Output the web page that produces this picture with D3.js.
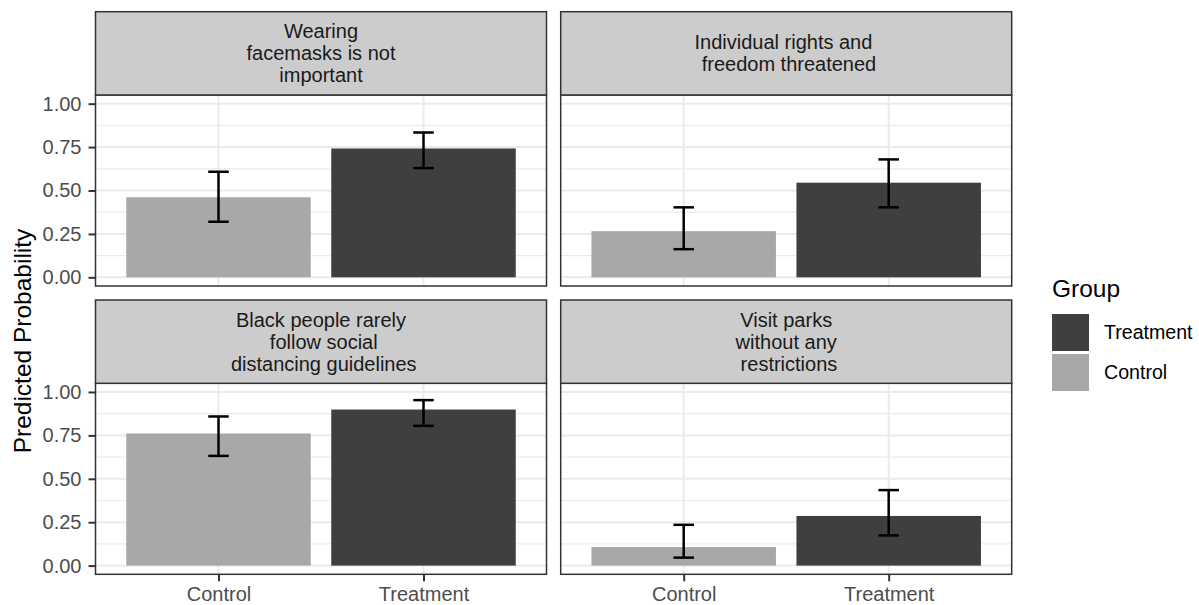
<!DOCTYPE html>
<html>
<head>
<meta charset="utf-8">
<script src="https://cdn.jsdelivr.net/npm/d3@7"></script>
<style>
  html, body { margin: 0; padding: 0; background: white; }
  svg { display: block; font-family: "Liberation Sans", Arial, sans-serif; }
  .strip-label { white-space: pre; }
</style>
</head>
<body>
<div id="chart"></div>
<script>
// facet titles, one entry per line of the strip
var facetLabels = [
  ["Wearing", "facemasks is not", "important"],
  ["Individual rights and ", " freedom threatened"],
  ["Black people rarely", " follow social", " distancing guidelines"],
  ["Visit parks", "without any", " restrictions"]
];

var groups = ["Control", "Treatment"];
var legendOrder = ["Treatment", "Control"];

// predicted probability and interval, per facet
var controlEstimates = [0.461, 0.266, 0.761, 0.107];
var controlLower = [0.320, 0.162, 0.632, 0.046];
var controlUpper = [0.608, 0.403, 0.859, 0.235];

var treatmentEstimates = [0.742, 0.545, 0.899, 0.286];
var treatmentLower = [0.629, 0.403, 0.805, 0.174];
var treatmentUpper = [0.834, 0.679, 0.953, 0.435];

var yTicks = [0, 0.25, 0.5, 0.75, 1];
var yMinorTicks = [0.125, 0.375, 0.625, 0.875];

var
  WIDTH = 1199,
  HEIGHT = 605,

  // left edge of each facet column, top of each facet row (strip top)
  COLUMN_LEFTS = [95.5, 560.7],
  ROW_TOPS = [11.7, 300],
  PANEL_WIDTH = 451,
  STRIP_HEIGHT = 83.3,
  PANEL_HEIGHT = 191,

  STRIP_LINE_HEIGHT = 22,

  BAR_WIDTH = 0.9,       // in category steps
  ERRORBAR_WIDTH = 0.1,  // in category steps

  COLORS = { Control: "#a8a8a8", Treatment: "#3f3f3f" },
  STRIP_FILL = "#cccccc",
  BORDER_COLOR = "#333333",
  GRID_COLOR = "#ebebeb",
  TICK_TEXT_COLOR = "#4d4d4d";

var svg = d3.select("#chart").append("svg")
  .attr("width", WIDTH)
  .attr("height", HEIGHT);

svg.append("rect")
  .attr("width", WIDTH)
  .attr("height", HEIGHT)
  .attr("fill", "white");

function facetRows(i){
  return [
    { group: "Control", value: controlEstimates[i], lower: controlLower[i], upper: controlUpper[i] },
    { group: "Treatment", value: treatmentEstimates[i], lower: treatmentLower[i], upper: treatmentUpper[i] }
  ];
}

function drawFacet(i){
  var
    col = i % 2,
    row = Math.floor(i / 2),
    left = COLUMN_LEFTS[col],
    stripTop = ROW_TOPS[row],
    panelTop = stripTop + STRIP_HEIGHT,
    panelBottom = panelTop + PANEL_HEIGHT,
    x = d3.scalePoint().domain(groups).range([left, left + PANEL_WIDTH]).padding(0.6),
    y = d3.scaleLinear().domain([-0.05, 1.05]).range([panelBottom, panelTop]),
    step = x.step(),
    g = svg.append("g"),
    lines = facetLabels[i],
    stripMid = stripTop + STRIP_HEIGHT / 2;

  // grid
  g.selectAll("line.minor").data(yMinorTicks).join("line")
    .attr("x1", left).attr("x2", left + PANEL_WIDTH)
    .attr("y1", function(d){ return y(d); }).attr("y2", function(d){ return y(d); })
    .attr("stroke", GRID_COLOR).attr("stroke-width", 1.2);
  g.selectAll("line.major").data(yTicks).join("line")
    .attr("x1", left).attr("x2", left + PANEL_WIDTH)
    .attr("y1", function(d){ return y(d); }).attr("y2", function(d){ return y(d); })
    .attr("stroke", GRID_COLOR).attr("stroke-width", 2);
  g.selectAll("line.vmajor").data(groups).join("line")
    .attr("x1", function(d){ return x(d); }).attr("x2", function(d){ return x(d); })
    .attr("y1", panelTop).attr("y2", panelBottom)
    .attr("stroke", GRID_COLOR).attr("stroke-width", 2);

  var data = facetRows(i);

  // bars
  g.selectAll("rect.bar").data(data).join("rect")
    .attr("x", function(d){ return x(d.group) - step * BAR_WIDTH / 2; })
    .attr("width", step * BAR_WIDTH)
    .attr("y", function(d){ return y(d.value); })
    .attr("height", function(d){ return y(0) - y(d.value); })
    .attr("fill", function(d){ return COLORS[d.group]; });

  // error bars
  var eb = g.selectAll("g.eb").data(data).join("g")
    .attr("stroke", "black").attr("stroke-width", 2.5).attr("fill", "none");
  eb.append("line")
    .attr("x1", function(d){ return x(d.group); }).attr("x2", function(d){ return x(d.group); })
    .attr("y1", function(d){ return y(d.lower); }).attr("y2", function(d){ return y(d.upper); });
  eb.append("line")
    .attr("x1", function(d){ return x(d.group) - step * ERRORBAR_WIDTH / 2; })
    .attr("x2", function(d){ return x(d.group) + step * ERRORBAR_WIDTH / 2; })
    .attr("y1", function(d){ return y(d.upper); }).attr("y2", function(d){ return y(d.upper); });
  eb.append("line")
    .attr("x1", function(d){ return x(d.group) - step * ERRORBAR_WIDTH / 2; })
    .attr("x2", function(d){ return x(d.group) + step * ERRORBAR_WIDTH / 2; })
    .attr("y1", function(d){ return y(d.lower); }).attr("y2", function(d){ return y(d.lower); });

  // panel border
  g.append("rect")
    .attr("x", left).attr("y", panelTop)
    .attr("width", PANEL_WIDTH).attr("height", PANEL_HEIGHT)
    .attr("fill", "none").attr("stroke", BORDER_COLOR).attr("stroke-width", 1.5);

  // strip
  g.append("rect")
    .attr("x", left).attr("y", stripTop)
    .attr("width", PANEL_WIDTH).attr("height", STRIP_HEIGHT)
    .attr("fill", STRIP_FILL).attr("stroke", BORDER_COLOR).attr("stroke-width", 1.5);
  g.selectAll("text.strip-label").data(lines).join("text")
    .attr("class", "strip-label")
    .attr("x", left + PANEL_WIDTH / 2)
    .attr("y", function(d, k){ return stripMid + (k - (lines.length - 1) / 2) * STRIP_LINE_HEIGHT; })
    .attr("dy", "0.35em")
    .attr("text-anchor", "middle")
    .attr("font-size", 20)
    .attr("fill", "#1a1a1a")
    .text(function(d){ return d; });

  // axes only on the outer facets
  if (col === 0) {
    var ya = g.append("g")
      .attr("transform", "translate(" + left + ",0)")
      .call(d3.axisLeft(y).tickValues(yTicks).tickFormat(d3.format(".2f")).tickSize(7).tickPadding(7));
    styleAxis(ya);
  }
  if (row === 1) {
    var xa = g.append("g")
      .attr("transform", "translate(0," + panelBottom + ")")
      .call(d3.axisBottom(x).tickSize(7).tickPadding(6));
    styleAxis(xa);
  }
}

function styleAxis(axis){
  axis.select(".domain").remove();
  axis.selectAll(".tick line").attr("stroke", BORDER_COLOR).attr("stroke-width", 2);
  axis.selectAll(".tick text")
    .attr("fill", TICK_TEXT_COLOR)
    .attr("font-size", 20)
    .attr("font-family", "Liberation Sans, Arial, sans-serif");
}

facetLabels.forEach(function(d, i){ drawFacet(i); });

// y axis title
svg.append("text")
  .attr("transform", "translate(30.5,341) rotate(-90)")
  .attr("text-anchor", "middle")
  .attr("font-size", 24.5)
  .attr("fill", "black")
  .text("Predicted Probability");

// legend
var legend = svg.append("g").attr("transform", "translate(1052,0)");
legend.append("text")
  .attr("x", 0).attr("y", 297)
  .attr("font-size", 24.5)
  .attr("fill", "black")
  .text("Group");
var keys = legend.selectAll("g.key").data(legendOrder).join("g")
  .attr("transform", function(d, k){ return "translate(0," + (314 + k * 40) + ")"; });
keys.append("rect")
  .attr("width", 37).attr("height", 37)
  .attr("fill", function(d){ return COLORS[d]; });
keys.append("text")
  .attr("x", 52).attr("y", 18.5)
  .attr("dy", "0.35em")
  .attr("font-size", 19.6)
  .attr("fill", "black")
  .text(function(d){ return d; });
</script>
</body>
</html>
